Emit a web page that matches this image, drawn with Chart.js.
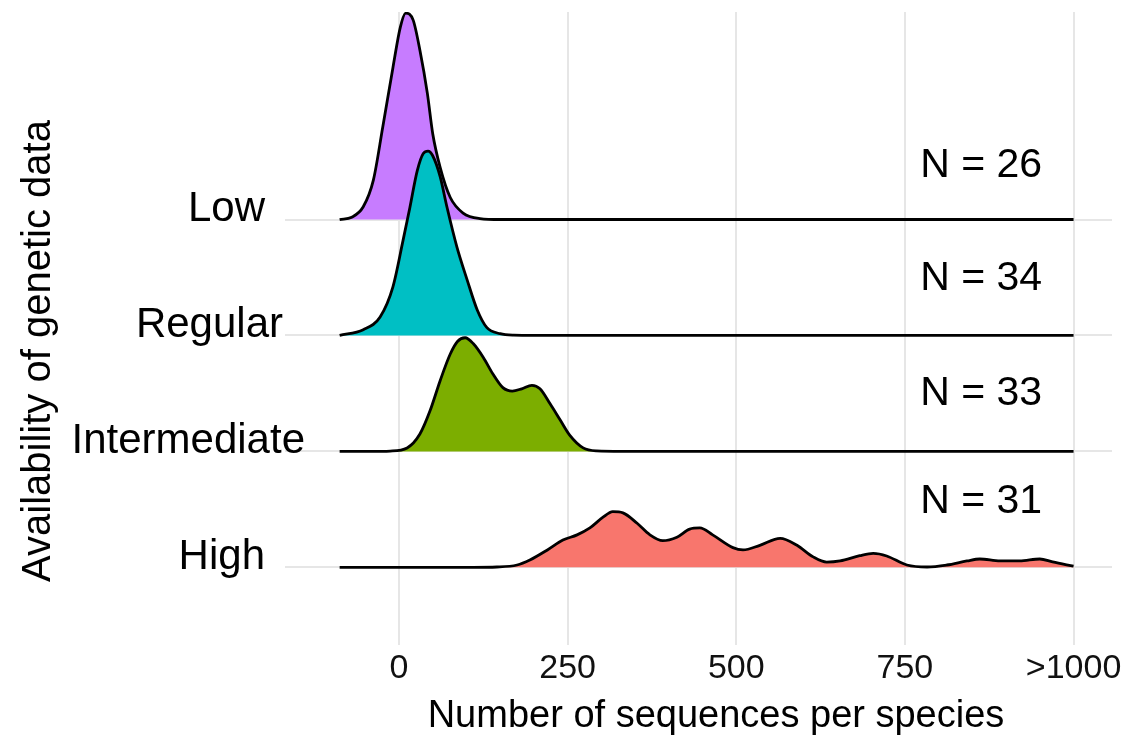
<!DOCTYPE html>
<html>
<head>
<meta charset="utf-8">
<script src="https://cdn.jsdelivr.net/npm/chart.js@4"></script>
<style>
  html, body { margin: 0; padding: 0; background: #fff; }
  #wrap { width: 1129px; height: 736px; }
</style>
</head>
<body>
<div id="wrap"><canvas id="chart" width="1129" height="736"></canvas></div>
<script>
// Rows, bottom to top
const categories = ['High', 'Intermediate', 'Regular', 'Low'];
const sampleSizes = [31, 33, 34, 26];
const fillColors = ['#F8766D', '#7CAE00', '#00BFC4', '#C77CFF'];

const xTickValues = [0, 250, 500, 750, 1000];
const xTickLabels = ['0', '250', '500', '750', '>1000'];

// Density ridges: x = sequences per species, h = ridge height (in row units)
const highX = [-88, 110, 145, 175, 194, 220, 243, 264, 283, 302, 317, 332, 353, 372, 391, 412, 431, 446, 465, 495, 510,
               535, 565, 590, 614, 634, 654, 683, 703, 723, 753, 783, 812, 842, 861, 891, 920, 950, 969, 1000];
const highH = [0, 0, 0.003, 0.02, 0.063, 0.15, 0.235, 0.28, 0.34, 0.43, 0.48, 0.47, 0.38, 0.28, 0.23, 0.26, 0.33, 0.34, 0.28, 0.17, 0.15,
               0.19, 0.25, 0.19, 0.09, 0.045, 0.055, 0.10, 0.12, 0.098, 0.02, 0.003, 0.02, 0.055, 0.072, 0.055, 0.055, 0.072, 0.046, 0.01];

const intX = [-88, -40, -13, 12, 31, 46, 61, 76, 87, 98, 110, 125, 139, 154, 168, 182, 197, 209, 224, 239, 253, 273, 293, 330, 1000];
const intH = [0, 0, 0.003, 0.03, 0.15, 0.35, 0.61, 0.84, 0.95, 0.98, 0.93, 0.81, 0.67, 0.55, 0.52, 0.54, 0.57, 0.54, 0.41, 0.27, 0.14, 0.03, 0.004, 0, 0];

const regX = [-88, -53, -28, -9, 6, 16, 27, 36, 43, 50, 61, 71, 86, 101, 116, 130, 150, 170, 200, 1000];
const regH = [0, 0.05, 0.16, 0.42, 0.82, 1.10, 1.42, 1.57, 1.59, 1.55, 1.37, 1.11, 0.76, 0.48, 0.22, 0.07, 0.015, 0.002, 0, 0];

const lowX = [-88, -70, -53, -38, -24, -9, 2, 10, 21, 31, 42, 50, 61, 76, 95, 120, 150, 1000];
const lowH = [0, 0.02, 0.11, 0.34, 0.80, 1.31, 1.66, 1.78, 1.72, 1.46, 1.09, 0.74, 0.45, 0.19, 0.056, 0.008, 0, 0];

const ridgeX = [highX, intX, regX, lowX];
const ridgeH = [highH, intH, regH, lowH];

// label styling
const FONT = "'Liberation Sans', Arial, Helvetica, sans-serif";
const rowLabelRight = [265, 305, 283, 265];
const nLabelLift = [0.47, 0.40, 0.39, 0.37];
const nLabelX = 863;

function ridge(xs, hs, row){
    return xs.map((x, i) => ({x: x, y: row + hs[i]}));
}

const datasets = categories.map((cat, row) => ({
    label: cat,
    data: ridge(ridgeX[row], ridgeH[row], row),
    fill: {value: row},
    backgroundColor: fillColors[row],
    borderColor: '#000',
    borderWidth: 2.8,
    pointRadius: 0,
    cubicInterpolationMode: 'monotone',
    order: row + 1
}));

// text drawn on top: row names, N labels, axis titles
const textPlugin = {
    id: 'ridgeText',
    afterDraw(chart){
        const ctx = chart.ctx;
        const xs = chart.scales.x, ys = chart.scales.y;
        ctx.save();
        ctx.fillStyle = '#000';
        ctx.textBaseline = 'alphabetic';

        ctx.font = `42px ${FONT}`;
        ctx.textAlign = 'right';
        categories.forEach((cat, row) => {
            ctx.fillText(cat, rowLabelRight[row], ys.getPixelForValue(row) + 1.5);
        });

        ctx.font = `41px ${FONT}`;
        ctx.textAlign = 'center';
        sampleSizes.forEach((n, row) => {
            ctx.fillText(`N = ${n}`, xs.getPixelForValue(nLabelX), ys.getPixelForValue(row + nLabelLift[row]));
        });

        ctx.font = `38px ${FONT}`;
        ctx.fillText('Number of sequences per species', 716, 727);

        ctx.font = `40px ${FONT}`;
        ctx.translate(50, 351);
        ctx.rotate(-Math.PI / 2);
        ctx.fillText('Availability of genetic data', 0, 0);
        ctx.restore();
    }
};

new Chart(document.getElementById('chart'), {
    type: 'line',
    data: {datasets: datasets},
    options: {
        responsive: false,
        animation: false,
        devicePixelRatio: 1,
        layout: {padding: {top: 12, right: 17, left: 0, bottom: 0}},
        plugins: {legend: {display: false}, tooltip: {enabled: false}},
        scales: {
            x: {
                type: 'linear',
                min: -169,
                max: 1057,
                afterBuildTicks: s => { s.ticks = xTickValues.map(v => ({value: v})); },
                afterFit: s => { s.height = 91; },
                grid: {color: '#E6E6E6', lineWidth: 2, drawTicks: false},
                border: {display: false},
                ticks: {
                    padding: 3,
                    color: '#111',
                    font: {family: FONT, size: 34},
                    maxRotation: 0,
                    callback: (v, i) => xTickLabels[i]
                }
            },
            y: {
                type: 'linear',
                min: -0.67,
                max: 4.79,
                afterBuildTicks: s => { s.ticks = categories.map((c, i) => ({value: i})); },
                afterFit: s => { s.width = 285; },
                grid: {color: '#E6E6E6', lineWidth: 2, drawTicks: false},
                border: {display: false},
                ticks: {display: false}
            }
        }
    },
    plugins: [textPlugin]
});
</script>
</body>
</html>
